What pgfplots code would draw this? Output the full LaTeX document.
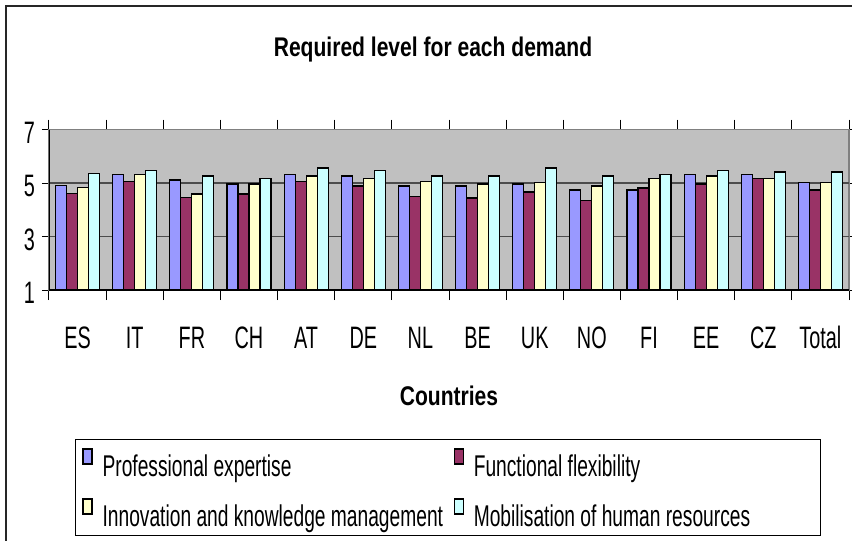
\documentclass[border=0pt]{standalone}
\usepackage{fontspec}
\setmainfont{Liberation Sans}[FakeStretch=0.64]
\newfontfamily\boldnarrow{Liberation Sans Bold}[FakeStretch=0.78]
\usepackage{pgfplots}
\usepackage{pgfplotstable}
\pgfplotsset{compat=1.18}
\definecolor{cPE}{RGB}{153,153,255}
\definecolor{cFF}{RGB}{153,51,102}
\definecolor{cIK}{RGB}{255,255,204}
\definecolor{cMH}{RGB}{204,255,255}
\definecolor{plotbg}{RGB}{192,192,192}
\pgfplotstableread{
x pe ff ikm mhr
0 4.90 4.60 4.82 5.35
1 5.33 5.05 5.33 5.48
2 5.11 4.45 4.59 5.26
3 4.96 4.59 4.96 5.18
4 5.33 5.05 5.26 5.56
5 5.26 4.89 5.18 5.48
6 4.89 4.51 5.05 5.26
7 4.89 4.44 4.96 5.26
8 4.96 4.66 5.03 5.56
9 4.74 4.36 4.89 5.26
10 4.74 4.81 5.18 5.33
11 5.33 4.96 5.26 5.48
12 5.33 5.18 5.18 5.41
13 5.03 4.74 5.03 5.41
}\data
\pgfplotsset{legsq/.style={legend image code/.code={\path[draw=none,fill=none] (0pt,-1.2pt) -- (4.5pt,9pt);\draw[##1, line width=0.6pt] (0pt,1.5pt) rectangle (4.5pt,9pt);}}}
\begin{document}
\begin{tikzpicture}[x=1pt,y=1pt]
\useasboundingbox (0,0) rectangle (426,270.5);
\draw[line width=0.6pt, black!85] (3,0) -- (3,267.5) -- (426,267.5);
\begin{axis}[
 at={(24.5pt,125.5pt)}, anchor=south west,
 scale only axis, width=400pt, height=80.25pt,
 xmin=-0.5, xmax=13.5, ymin=1, ymax=7,
 ytick={1,3,5,7},
 extra y ticks={3,5},
 extra y tick labels={},
 extra y tick style={grid=major, major tick length=0pt},
 xtick={0,...,13},
 xticklabels={ES,IT,FR,CH,AT,DE,NL,BE,UK,NO,FI,EE,CZ,Total},
 minor xtick={-0.5,0.5,...,13.5},
 major x tick style={draw=none},
 tick align=outside,
 major tick length=3.5pt,
 minor tick length=5pt,
 tick style={black, line width=0.5pt},
 major grid style={black!70, line width=0.6pt},
 axis background/.style={fill=plotbg},
 axis line style={draw=black!50, line width=0.6pt},
 ticklabel style={font=\fontsize{15.5}{18}\selectfont},
 /pgf/number format/assume math mode=true,
 xticklabel style={anchor=base, yshift=-25.5pt},
 yticklabel style={yshift=-1.5pt},
 title={Required level for each demand},
 title style={font=\boldnarrow\fontsize{13.5}{16}\selectfont, at={(axis description cs:0.48,1.459)}, anchor=base, yshift=-6.5pt},
 xlabel={Countries},
 xlabel style={font=\boldnarrow\fontsize{13.5}{16}\selectfont, at={(axis description cs:0.5,-0.7227)}, anchor=base},
 ybar, bar width=0.1925,
 legend columns=2,
 legend cell align=left,
 legend style={draw=none, fill=none, at={(axis description cs:0.04125,-0.985)}, anchor=north west, inner sep=0pt,
   nodes={inner sep=0pt, font=\fontsize{15}{18}\selectfont}, row sep=9.5pt,
   /tikz/every odd column/.append style={column sep=5pt},
   /tikz/every even column/.append style={column sep=1.5pt}},
]
\addplot[legsq, fill=cPE, draw=black, line width=0.6pt, bar shift=-0.289] table[x=x, y=pe] {\data};
\addlegendentry{\makebox[174pt][l]{Professional expertise}}
\addplot[legsq, fill=cFF, draw=black, line width=0.6pt, bar shift=-0.096] table[x=x, y=ff] {\data};
\addlegendentry{Functional flexibility}
\addplot[legsq, fill=cIK, draw=black, line width=0.6pt, bar shift=0.096] table[x=x, y=ikm] {\data};
\addlegendentry{\makebox[174pt][l]{Innovation and knowledge management}}
\addplot[legsq, fill=cMH, draw=black, line width=0.6pt, bar shift=0.289] table[x=x, y=mhr] {\data};
\addlegendentry{Mobilisation of human resources}
\draw[black, line width=0.7pt] (rel axis cs:0,1) -- (rel axis cs:0,0) -- (rel axis cs:1,0);
\end{axis}
\draw[black, line width=0.5pt] (37.5,2.5) rectangle (410,50.5);
\end{tikzpicture}
\end{document}
